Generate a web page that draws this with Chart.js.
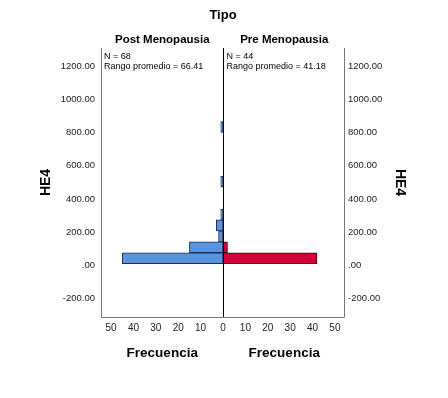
<!DOCTYPE html>
<html>
<head>
<meta charset="utf-8">
<script src="https://cdn.jsdelivr.net/npm/chart.js@4.4.1/dist/chart.umd.min.js"></script>
<style>
  html, body { margin:0; padding:0; background:#fff; }
</style>
</head>
<body>
<canvas id="chartPiramide" width="448" height="398"></canvas>
<script>
// HE4 bin midpoints (each bin ~66 wide)
const binMids = [42.6, 108.6, 174.6, 240.6, 306.6, 372.6, 438.6, 504.6, 570.6, 636.6, 702.6, 768.6, 834.6];
const postCounts = [45, 15, 2, 3, 1, 0, 0, 1, 0, 0, 0, 0, 1];
const preCounts  = [42, 2, 0, 0, 0, 0, 0, 0, 0, 0, 0, 0, 0];

const yTicks = [-200, 0, 200, 400, 600, 800, 1000, 1200];
const xTicks = [-50, -40, -30, -20, -10, 0, 10, 20, 30, 40, 50];

const groups = ['Post Menopausia', 'Pre Menopausia'];
const nCases = [68, 44];
const meanRanks = ['66.41', '41.18'];

const FONT = "'Liberation Sans', Arial, sans-serif";

const fmtHE4 = v => v === 0 ? '.00' : Number(v).toFixed(2);

// texto, marco y línea central
const overlay = {
  id: 'overlay',
  afterDraw(chart){
    const { ctx, chartArea:a, scales:{ x } } = chart;
    const mid = Math.round(x.getPixelForValue(0)) + 0.5;
    const leftMid = (a.left + mid) / 2, rightMid = (mid + a.right) / 2;
    ctx.save();
    ctx.strokeStyle = '#777'; ctx.lineWidth = 1;
    ctx.beginPath();
    ctx.moveTo(Math.round(a.left) + 0.5, a.top);
    ctx.lineTo(Math.round(a.left) + 0.5, Math.round(a.bottom) + 0.5);
    ctx.lineTo(Math.round(a.right) - 0.5, Math.round(a.bottom) + 0.5);
    ctx.lineTo(Math.round(a.right) - 0.5, a.top);
    ctx.stroke();
    ctx.strokeStyle = '#000';
    ctx.beginPath(); ctx.moveTo(mid, a.top); ctx.lineTo(mid, a.bottom); ctx.stroke();

    ctx.fillStyle = '#000';
    ctx.textBaseline = 'middle';
    ctx.textAlign = 'center';
    ctx.font = `bold 13px ${FONT}`;
    ctx.fillText('Tipo', (a.left + a.right) / 2, 15);
    ctx.font = `bold 11.5px ${FONT}`;
    ctx.fillText(groups[0], leftMid, 40);
    ctx.fillText(groups[1], rightMid, 40);
    ctx.font = `bold 13.5px ${FONT}`;
    ctx.fillText('Frecuencia', leftMid, 353);
    ctx.fillText('Frecuencia', rightMid, 353);

    ctx.textAlign = 'left';
    ctx.font = `9px ${FONT}`;
    ctx.fillText(`N = ${nCases[0]}`, a.left + 3, 57);
    ctx.fillText(`Rango promedio = ${meanRanks[0]}`, a.left + 3, 67);
    ctx.fillText(`N = ${nCases[1]}`, mid + 3, 57);
    ctx.fillText(`Rango promedio = ${meanRanks[1]}`, mid + 3, 67);
    ctx.restore();
  }
};

const yCommon = {
  type: 'linear', min: -312, max: 1311, offset: false,
  grid: { display:false, drawTicks:false }, border: { display:false },
  ticks: { callback: fmtHE4, color:'#222', font:{ family: FONT, size: 9.5 } },
  title: { display:true, text:'HE4', color:'#000', font:{ family: FONT, size: 14, weight:'bold' } },
  afterBuildTicks: s => { s.ticks = yTicks.map(v => ({ value: v })); },
  afterFit: s => { s.width = 67; }
};

new Chart(document.getElementById('chartPiramide'), {
  type: 'bar',
  data: {
    datasets: [
      { label: groups[0], data: binMids.map((m,i) => ({ y: m, x: -postCounts[i] })),
        backgroundColor:'#5A94E0', borderColor:'#1E2F4F', borderWidth:1, borderSkipped:false },
      { label: groups[1], data: binMids.map((m,i) => ({ y: m, x: preCounts[i] })),
        backgroundColor:'#D3003A', borderColor:'#3A1010', borderWidth:1, borderSkipped:false }
    ]
  },
  options: {
    responsive: false,
    animation: false,
    indexAxis: 'y',
    devicePixelRatio: 1,
    layout: { padding: { left: 34, right: 36, top: 48, bottom: 0 } },
    datasets: { bar: { grouped:false, categoryPercentage:1, barPercentage:1 } },
    plugins: { legend:{ display:false }, tooltip:{ enabled:false } },
    scales: {
      x: {
        type: 'linear', min: -54.5, max: 54.5,
        grid: { display:false, drawTicks:false }, border: { display:false },
        ticks: { padding: 5, color:'#222', font:{ family: FONT, size: 10 }, callback: v => Math.abs(v) },
        afterBuildTicks: s => { s.ticks = xTicks.map(v => ({ value: v })); },
        afterFit: s => { s.height = 81; }
      },
      y: { ...yCommon, position:'left', ticks: { ...yCommon.ticks, padding: 6 } },
      y2: { ...yCommon, position:'right', ticks: { ...yCommon.ticks, padding: 3 } }
    }
  },
  plugins: [overlay]
});
</script>
</body>
</html>
